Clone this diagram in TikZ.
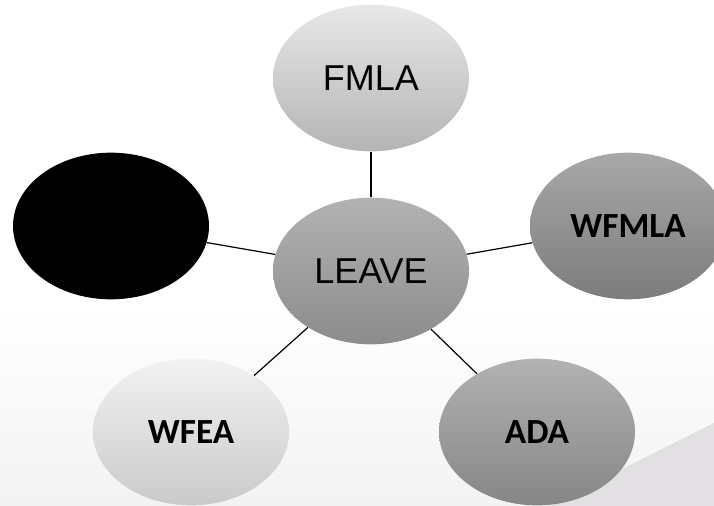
\documentclass[tikz,border=0pt]{standalone}
\usepackage{fontspec}
\setmainfont{Liberation Sans}
\newfontfamily\boldsans{Carlito}
\usepackage{tikz}
\usetikzlibrary{shapes.geometric}

\definecolor{swoosh}{HTML}{E3E0E3}
\definecolor{bgshade}{HTML}{F3F3F3}

\begin{document}
\begin{tikzpicture}[
    x=0.75pt, y=-0.75pt,
    bubble/.style={ellipse, inner sep=0pt, minimum width=147pt, minimum height=110pt, font=\fontsize{27}{32}\selectfont},
    boldbubble/.style={bubble, font=\boldsans\bfseries\fontsize{26.5}{32}\selectfont},
    spoke/.style={draw=black, line width=0.9pt},
  ]
  \clip (0,0) rectangle (714,506);
  % background
  \fill[top color=white, bottom color=bgshade] (0,300) rectangle (714,506);
  \fill[white] (0,0) rectangle (714,300);
  \fill[swoosh] (547,506) -- (714,423) -- (714,506) -- cycle;

  \node[bubble, top color={rgb,255:red,232;green,232;blue,232}, bottom color={rgb,255:red,180;green,180;blue,180}] (fmla) at (371,78) {FMLA};
  \node[bubble, top color={rgb,255:red,178;green,178;blue,178}, bottom color={rgb,255:red,140;green,140;blue,140}] (leave) at (371,271) {LEAVE};
  \node[boldbubble, top color={rgb,255:red,168;green,168;blue,168}, bottom color={rgb,255:red,124;green,124;blue,124}] (wfmla) at (628,226) {WFMLA};
  \node[boldbubble, top color={rgb,255:red,242;green,242;blue,242}, bottom color={rgb,255:red,202;green,202;blue,202}] (wfea) at (191,432) {WFEA};
  \node[boldbubble, top color={rgb,255:red,178;green,178;blue,178}, bottom color={rgb,255:red,134;green,134;blue,134}] (ada) at (537,432) {ADA};
  \node[bubble, fill=black] (blank) at (111,226) {};

  \foreach \a in {fmla, wfmla, wfea, ada, blank}
    \draw[spoke] (leave) -- (\a);
\end{tikzpicture}
\end{document}
